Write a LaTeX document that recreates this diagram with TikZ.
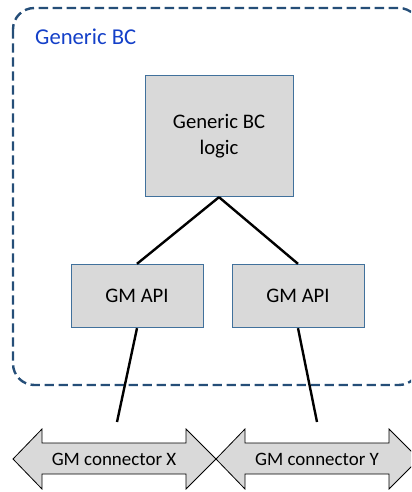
\documentclass[tikz,border=0pt]{standalone}
\usepackage{fontspec}
\setmainfont{Carlito}
\usetikzlibrary{calc}
\definecolor{boxline}{HTML}{41719C}
\definecolor{boxfill}{HTML}{D9D9D9}
\definecolor{framecol}{HTML}{254E78}
\definecolor{titlecol}{HTML}{1440C8}
\tikzset{
	gmbox/.style={draw=boxline, line width=0.75pt, fill=boxfill, inner sep=0pt},
	link/.style={line width=1.8pt, black},
	arrowbox/.style={draw=black, line width=0.6pt, fill=boxfill}
}
\def\gmarrow(#1:#2){\draw[arrowbox] (#1,459) -- (#1+29,429) -- (#1+29,443) -- (#2-30,443) -- (#2-30,429) -- (#2,459) -- (#2-30,489) -- (#2-30,474) -- (#1+29,474) -- (#1+29,489) -- cycle;}

\begin{document}
\begin{tikzpicture}[x=0.75pt, y=-0.75pt]
		%%%%% START %%%%%
		\useasboundingbox (0,0) rectangle (411,492);
		\clip (0,0) rectangle (411,492);
		
		% outer frame
		\draw[framecol, line width=1.8pt, dash pattern=on 7pt off 3.5pt, rounded corners=16pt] (13,8) rectangle (420,385);
		\node[anchor=west, text=titlecol, font=\fontsize{17}{20}\selectfont] (title) at (30.5,37) {Generic BC};
		
		% boxes
		\node[gmbox, minimum width=111pt, minimum height=91pt, align=center, font=\fontsize{15.5}{19}\selectfont] (logic) at (219,136) {Generic BC\\logic};
		\node[gmbox, minimum width=99pt, minimum height=47.5pt, font=\fontsize{15.5}{19}\selectfont] (apiX) at (137,296) {GM API};
		\node[gmbox, minimum width=99pt, minimum height=47.5pt, font=\fontsize{15.5}{19}\selectfont] (apiY) at (298,296) {GM API};
		
		% connectors
		\gmarrow(13:216)
		\gmarrow(216:419)
		\node[font=\fontsize{14.2}{17}\selectfont] (conX) at (114,459) {GM connector X};
		\node[font=\fontsize{14.2}{17}\selectfont] (conY) at (317,459) {GM connector Y};
		\coordinate (endX) at (117,422);
		\coordinate (endY) at (317,422);
		
		% links
		\draw[link] (logic.south) -- (apiX.north);
		\draw[link] (logic.south) -- (apiY.north);
		\draw[link] (apiX.south) -- (endX);
		\draw[link] (apiY.south) -- (endY);
		
		%%%%% END %%%%%
	\end{tikzpicture}
\end{document}
